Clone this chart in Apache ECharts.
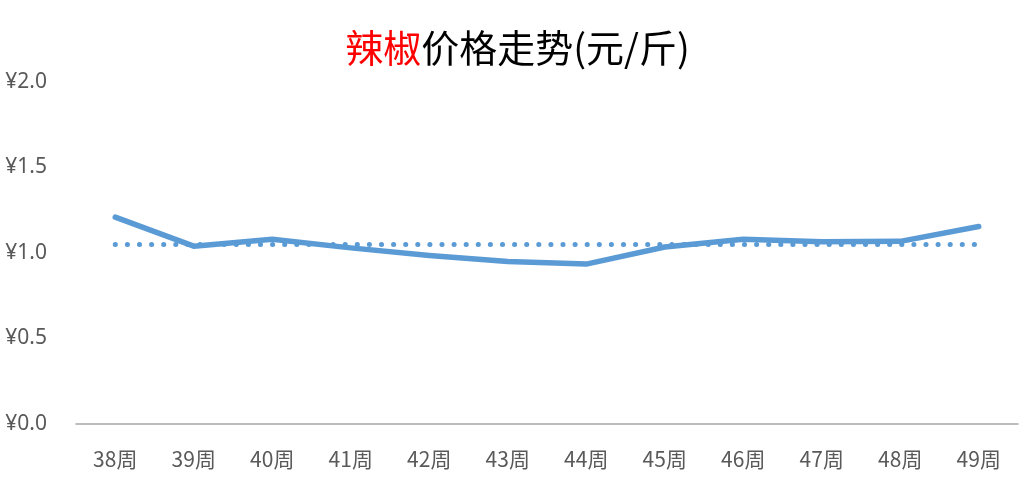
<!DOCTYPE html>
<html>
<head>
<meta charset="utf-8">
<script src="https://cdn.jsdelivr.net/npm/echarts@6/dist/echarts.min.js"></script>
<style>
  html, body { margin: 0; padding: 0; background: #fff; }
  #main { width: 1035px; height: 484px; }
</style>
</head>
<body>
<div id="main"></div>
<script>
// 周次
var weeks = ['38周', '39周', '40周', '41周', '42周', '43周', '44周', '45周', '46周', '47周', '48周', '49周'];
// 辣椒价格 (元/斤)
var prices = [1.21, 1.04, 1.08, 1.03, 0.985, 0.95, 0.935, 1.035, 1.08, 1.066, 1.068, 1.155];
// 平均线 (点线)
var avgLine = [1.05, 1.05, 1.05, 1.05, 1.05, 1.05, 1.05, 1.05, 1.05, 1.05, 1.05, 1.05];
// y轴刻度
var yTicks = [0, 0.5, 1.0, 1.5, 2.0];

var chart = echarts.init(document.getElementById('main'));
var lineColor = '#5b9bd5';
var option = {
  animation: false,
  title: {
    text: '{r|辣椒}{b|价格走势(元/斤)}',
    left: 'center',
    top: 24,
    textStyle: {
      rich: {
        r: { color: '#ff0000', fontSize: 38, fontWeight: 'normal', fontFamily: 'Noto Sans CJK SC' },
        b: { color: '#000000', fontSize: 38, fontWeight: 'normal', fontFamily: 'Noto Sans CJK SC' }
      }
    }
  },
  grid: { left: 76, right: 17, top: 82, bottom: 60 },
  xAxis: {
    type: 'category',
    data: weeks,
    boundaryGap: true,
    axisLine: { lineStyle: { color: '#a6a6a6', width: 1.5 } },
    axisTick: { show: false },
    axisLabel: {
      color: '#595959',
      fontSize: 21,
      margin: 25,
      fontFamily: 'Noto Sans CJK SC'
    }
  },
  yAxis: {
    type: 'value',
    min: yTicks[0],
    max: yTicks[yTicks.length - 1],
    interval: 0.5,
    splitLine: { show: false },
    axisLine: { show: false },
    axisTick: { show: false },
    axisLabel: {
      color: '#595959',
      fontSize: 21,
      margin: 29,
      fontFamily: 'Noto Sans',
      formatter: function (v) { return '¥' + v.toFixed(1); }
    }
  },
  series: [
    {
      type: 'line',
      data: avgLine,
      symbol: 'none',
      lineStyle: { color: lineColor, width: 5, type: [0.1, 12], cap: 'round' },
      z: 2
    },
    {
      type: 'line',
      data: prices,
      symbol: 'none',
      lineStyle: { color: lineColor, width: 5.5, cap: 'round', join: 'round' },
      z: 3
    }
  ]
};
chart.setOption(option);
</script>
</body>
</html>
